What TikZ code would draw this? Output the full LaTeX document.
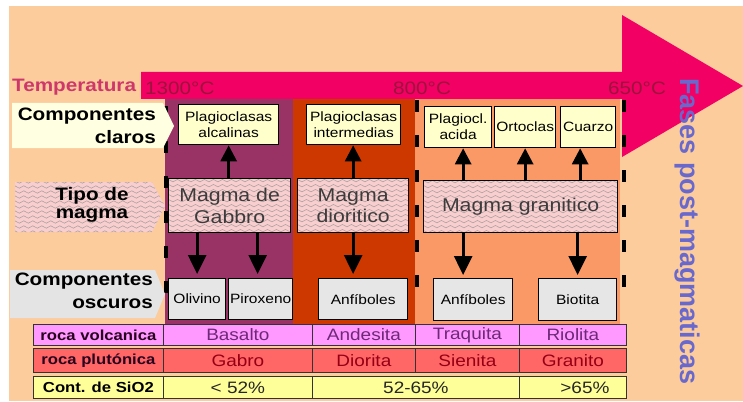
\documentclass[tikz,border=0pt]{standalone}
\usepackage{fontspec}
\setmainfont{Liberation Sans}[FakeStretch=1.15]
\newfontfamily\plainsans{Liberation Sans}
\usetikzlibrary{arrows.meta,decorations.pathmorphing,calc}
\definecolor{peach}{RGB}{252,204,157}
\definecolor{barpink}{RGB}{242,0,100}
\definecolor{purplecol}{RGB}{153,51,102}
\definecolor{redcol}{RGB}{205,55,0}
\definecolor{orangecol}{RGB}{250,153,102}
\definecolor{creambox}{RGB}{255,255,204}
\definecolor{graybox}{RGB}{230,230,230}
\definecolor{labcream}{RGB}{255,255,225}
\definecolor{labgray}{RGB}{228,228,228}
\definecolor{wavebg}{RGB}{249,206,206}
\definecolor{wavecol}{RGB}{175,162,162}
\definecolor{temptext}{RGB}{155,20,60}
\definecolor{temptitle}{RGB}{205,55,105}
\definecolor{fasecol}{RGB}{105,105,205}
\definecolor{volcrow}{RGB}{255,153,255}
\definecolor{plutrow}{RGB}{255,102,102}
\definecolor{siorow}{RGB}{255,255,153}
\definecolor{volctext}{RGB}{110,40,120}
\definecolor{pluttext}{RGB}{150,0,20}
\definecolor{labtext}{RGB}{40,0,30}
\definecolor{magtext}{RGB}{60,60,60}
\begin{document}
\begin{tikzpicture}[x=1pt,y=-1pt,
  wavyfill/.style={fill=wavebg, path picture={
    \foreach \yy in {-40,-35,...,40}{
      \draw[wavecol, line width=0.6pt, decoration={snake, amplitude=1.2pt, segment length=9pt}, decorate]
        ([xshift=-12pt,yshift=\yy pt]path picture bounding box.west) -- ([xshift=12pt,yshift=\yy pt]path picture bounding box.east);
    }}},
  lbl/.style={font=\bfseries\fontsize{18}{23}\selectfont, inner sep=0pt, align=right, text=black},
  minbox/.style={draw=black, line width=1.3pt, fill=creambox, inner sep=0pt, anchor=north west, align=center, font=\fontsize{13.5}{16}\selectfont},
  darkbox/.style={minbox, fill=graybox},
  magbox/.style={draw=black, line width=1.3pt, wavyfill, inner sep=0pt, anchor=north west, align=center, font=\fontsize{18.5}{21.5}\selectfont, text=magtext},
  dashline/.style={line width=4pt, dash pattern=on 12pt off 23pt},
  upar/.style={line width=2.8pt, -{Triangle[width=16pt,length=16pt]}},
  dnar/.style={line width=2.8pt, -{Triangle[width=18pt,length=19pt]}},
  temp/.style={font=\fontsize{18}{18}\selectfont, text=temptext, inner sep=0pt, anchor=base west},
  cell/.style={draw=black!80, line width=0.8pt, inner sep=0pt, anchor=north west, font=\fontsize{16.5}{18}\selectfont},
  rowlab/.style={cell, font=\bfseries\fontsize{14.5}{16}\selectfont}
]
\useasboundingbox (0,0) rectangle (743,401);
\fill[white] (0,0) rectangle (743,401);
\fill[peach] (9,6) rectangle (743,401);
% temperature arrow
\fill[barpink] (141,72) -- (622,72) -- (622,15) -- (743,86) -- (622,157) -- (622,99) -- (141,99) -- cycle;
% columns
\fill[purplecol] (165,99) rectangle (293,324);
\fill[redcol] (293,99) rectangle (415,324);
\fill[orangecol] (415,99) rectangle (620,324);
% dashed separators
\draw[dashline] (166,106) -- (166,298);
\draw[dashline] (417,100) -- (417,298);
\draw[dashline] (624,100) -- (624,298);
% left labels
\path[fill=labcream] (12,103) -- (163,103) -- (174,126) -- (163,148) -- (12,148) -- cycle;
\node[lbl, anchor=east] (lclaros) at (156,126) {Componentes\\claros};
\path[wavyfill] (15,182) -- (152,182) -- (165,206) -- (152,232) -- (15,232) -- cycle;
\node[lbl, align=center, anchor=center, font=\bfseries\fontsize{18}{18.5}\selectfont] (ltipo) at (92,205) {Tipo de\\magma};
\path[fill=labgray] (10,270) -- (155,270) -- (165,294) -- (155,318) -- (10,318) -- cycle;
\node[lbl, anchor=east] (loscuros) at (153,291) {Componentes\\oscuros};
% temperature labels
\node[font=\bfseries\fontsize{18}{18}\selectfont, text=temptitle, inner sep=0pt, anchor=base west] (ttitle) at (12,92) {Temperatura};
\node[temp] (t1300) at (145,95) {1300°C};
\node[temp] (t800) at (393,95) {800°C};
\node[temp] (t650) at (608,95) {650°C};
% light mineral boxes
\node[minbox, minimum width=100pt, minimum height=40pt] (plagA) at (178,104) {Plagioclasas\\alcalinas};
\node[minbox, minimum width=94pt, minimum height=40pt] (plagI) at (306,104) {Plagioclasas\\intermedias};
\node[minbox, minimum width=67pt, minimum height=41pt] (plagC) at (424,106) {Plagiocl.\\acida};
\node[minbox, minimum width=61pt, minimum height=41pt] (orto) at (494,106) {Ortoclas};
\node[minbox, minimum width=55pt, minimum height=41pt] (cuar) at (560,106) {Cuarzo};
% magma boxes
\node[magbox, minimum width=122pt, minimum height=54pt] (gabbro) at (168,178) {Magma de\\Gabbro};
\node[magbox, minimum width=111pt, minimum height=54pt] (dior) at (297,178) {Magma\\dioritico};
\node[magbox, minimum width=194pt, minimum height=52pt] (gran) at (423,180) {Magma granitico};
% dark mineral boxes
\node[darkbox, minimum width=57pt, minimum height=41pt] (oliv) at (168,278) {Olivino};
\node[darkbox, minimum width=64pt, minimum height=41pt] (pirox) at (228,278) {Piroxeno};
\node[darkbox, minimum width=89pt, minimum height=41pt] (anfA) at (318,278) {Anfíboles};
\node[darkbox, minimum width=79pt, minimum height=42pt] (anfB) at (433,278) {Anfíboles};
\node[darkbox, minimum width=78pt, minimum height=42pt] (biot) at (538,278) {Biotita};
% up arrows
\draw[upar] (gabbro.north -| plagA.south) -- (plagA.south);
\draw[upar] (dior.north) -- (dior.north |- plagI.south);
\draw[upar] ([xshift=5pt]plagC.south |- gran.north) -- ([xshift=5pt]plagC.south);
\draw[upar] (orto.south |- gran.north) -- (orto.south);
\draw[upar] ([xshift=-8pt]cuar.south |- gran.north) -- ([xshift=-8pt]cuar.south);
% down arrows
\draw[dnar, shorten >=4pt] (oliv.north |- gabbro.south) -- (oliv.north);
\draw[dnar, shorten >=4pt] ([xshift=-3pt]pirox.north |- gabbro.south) -- ([xshift=-3pt]pirox.north);
\draw[dnar, shorten >=4pt] (dior.south) -- (dior.south |- anfA.north);
\draw[dnar, shorten >=3pt] ([xshift=-10pt]anfB.north |- gran.south) -- ([xshift=-10pt]anfB.north);
\draw[dnar, shorten >=3pt] (biot.north |- gran.south) -- (biot.north);
% table
\node[rowlab, fill=volcrow, text=labtext, minimum width=130pt, minimum height=21pt] (rv) at (33,324) {roca volcanica};
\node[cell, fill=volcrow, text=volctext, minimum width=149pt, minimum height=21pt] (rv1) at (163,324) {Basalto};
\node[cell, fill=volcrow, text=volctext, minimum width=103pt, minimum height=21pt] (rv2) at (312,324) {Andesita};
\node[cell, fill=volcrow, text=volctext, minimum width=104pt, minimum height=21pt] (rv3) at (415,324) {Traquita};
\node[cell, fill=volcrow, text=volctext, minimum width=107pt, minimum height=21pt] (rv4) at (519,324) {Riolita};
\node[rowlab, fill=plutrow, text=labtext, minimum width=130pt, minimum height=24pt] (rp) at (33,348) {roca plutónica};
\node[cell, fill=plutrow, text=pluttext, minimum width=149pt, minimum height=24pt] (rp1) at (163,348) {Gabro};
\node[cell, fill=plutrow, text=pluttext, minimum width=103pt, minimum height=24pt] (rp2) at (312,348) {Diorita};
\node[cell, fill=plutrow, text=pluttext, minimum width=104pt, minimum height=24pt] (rp3) at (415,348) {Sienita};
\node[cell, fill=plutrow, text=pluttext, minimum width=107pt, minimum height=24pt] (rp4) at (519,348) {Granito};
\node[rowlab, fill=siorow, text=black, minimum width=130pt, minimum height=22pt] (rs) at (33,376) {Cont. de SiO2};
\node[cell, fill=siorow, text=black!85, minimum width=149pt, minimum height=22pt] (rs1) at (163,376) {< 52\%};
\node[cell, fill=siorow, text=black!85, minimum width=207pt, minimum height=22pt] (rs2) at (312,376) {52-65\%};
\node[cell, fill=siorow, text=black!85, minimum width=107pt, minimum height=22pt] (rs3) at (519,376) {\hspace{24pt}>65\%};
% vertical label
\node[rotate=-90, anchor=base west, inner sep=0pt, font=\plainsans\bfseries\fontsize{27}{27}\selectfont, text=fasecol] (fases) at (680,78) {Fases post-magmaticas};
\end{tikzpicture}
\end{document}
